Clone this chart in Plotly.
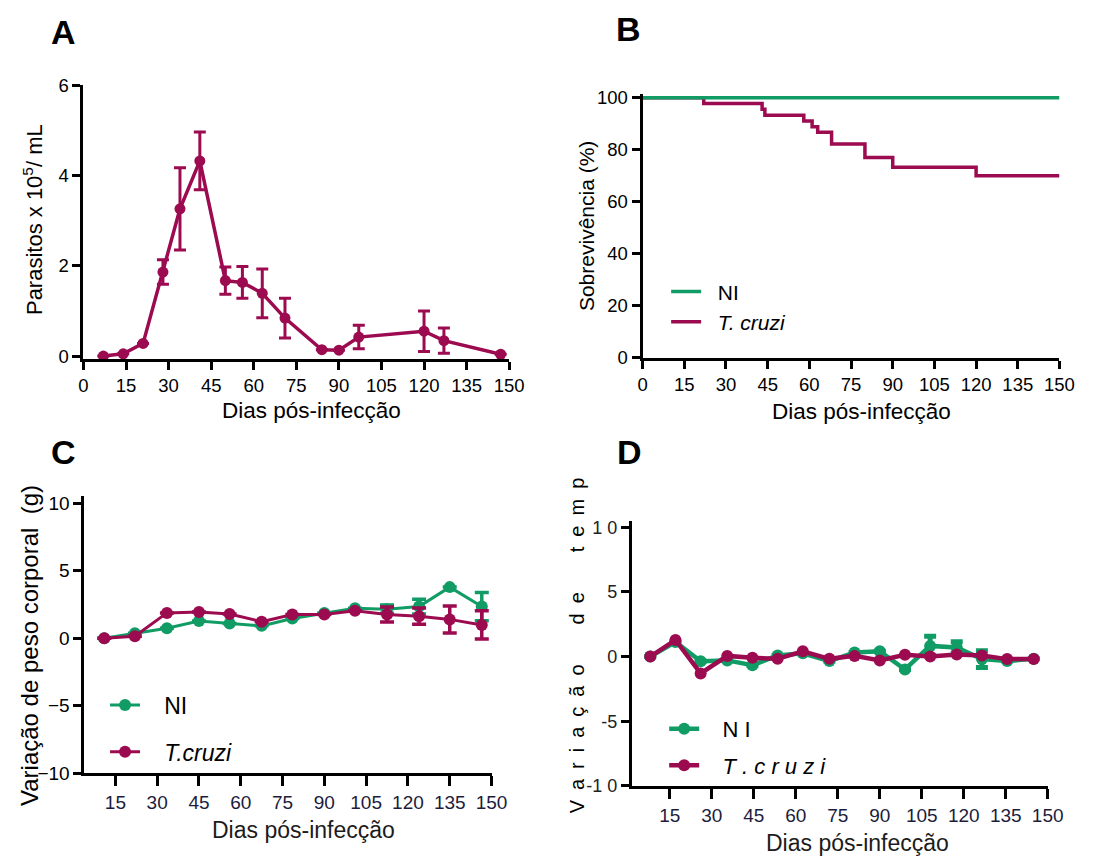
import plotly.graph_objects as go

W, H = 1100, 868
CR = "#9c0a50"
GR = "#109c64"
FONT = "Liberation Sans, Arial, sans-serif"
NARROW = "Liberation Sans Narrow, Arial Narrow, Liberation Sans, sans-serif"

# ---------- Panel A: parasitemia ----------
a_days = [7, 14, 21, 28, 34, 41, 50, 56, 63, 71, 84, 90, 97, 120, 127, 147]
a_par = [0.0, 0.05, 0.28, 1.86, 3.26, 4.32, 1.67, 1.63, 1.39, 0.84, 0.14, 0.13, 0.42, 0.55, 0.34, 0.04]
a_err = [0.0, 0.0, 0.0, 0.27, 0.91, 0.64, 0.30, 0.35, 0.54, 0.44, 0.0, 0.0, 0.26, 0.45, 0.28, 0.0]

# ---------- Panel B: survival ----------
b_ni_days = [0, 150]
b_ni_surv = [100, 100]
b_tc_days = [0, 22, 43, 44, 58, 61, 63, 68, 80, 90, 120, 150]
b_tc_surv = [100, 97.8, 95.6, 93.3, 91.1, 88.9, 86.7, 82.2, 77.0, 73.3, 70.0, 70.0]

# ---------- Panel C: body weight ----------
c_days = [11, 22, 33.5, 45, 56, 67.5, 78.5, 90, 101, 112.5, 124, 135, 146.5]
c_ni = [0.0, 0.36, 0.74, 1.27, 1.08, 0.91, 1.46, 1.87, 2.22, 2.15, 2.34, 3.78, 2.34]
c_ni_err = [0, 0, 0, 0, 0, 0, 0, 0, 0, 0.3, 0.55, 0, 1.05]
c_tc = [0.0, 0.14, 1.87, 1.94, 1.79, 1.22, 1.75, 1.75, 2.03, 1.75, 1.63, 1.39, 0.98]
c_tc_err = [0, 0, 0, 0, 0, 0, 0, 0, 0, 0.55, 0.6, 1.0, 1.05]

# ---------- Panel D: temperature ----------
d_days = [8, 17, 26, 35.5, 44.5, 53.5, 62.5, 72, 81, 90, 99, 108, 117.5, 126.5, 135.5, 145]
d_ni = [0.0, 1.12, -0.37, -0.3, -0.67, 0.08, 0.25, -0.35, 0.32, 0.4, -1.0, 0.82, 0.7, -0.2, -0.35, -0.18]
d_ni_err = [0, 0, 0, 0, 0, 0, 0, 0, 0, 0, 0, 0.75, 0.45, 0.65, 0, 0]
d_tc = [0.0, 1.28, -1.31, 0.05, -0.1, -0.18, 0.4, -0.18, 0.05, -0.3, 0.13, 0.0, 0.15, 0.08, -0.2, -0.2]

x_ticks_full = [0, 15, 30, 45, 60, 75, 90, 105, 120, 135, 150]
x_ticks_c = [15, 30, 45, 60, 75, 90, 105, 120, 135, 150]
d_ytickvals = [-10, -5, 0, 5, 10]
d_yticktext = ["-1 0", "-5", "0", "5", "1 0"]


def px(x):
    return x / W


def py(y):
    return 1 - y / H


NB = "\u00a0"
fig = go.Figure()

# A
fig.add_trace(go.Scatter(
    x=a_days, y=a_par, mode="lines+markers", xaxis="x", yaxis="y",
    line=dict(color=CR, width=3.5), marker=dict(color=CR, size=11),
    error_y=dict(type="data", array=a_err, color=CR, thickness=3, width=6),
    showlegend=False, cliponaxis=False))

# B (T. cruzi drawn first so NI sits on top; legend order kept via legendrank)
fig.add_trace(go.Scatter(
    x=b_tc_days, y=b_tc_surv, mode="lines", xaxis="x2", yaxis="y2",
    line=dict(color=CR, width=3.5, shape="hv"), name=NB * 2 + "<i>T. cruzi</i>",
    legend="legend", legendgroup="btc", legendrank=2, cliponaxis=False))
fig.add_trace(go.Scatter(
    x=b_ni_days, y=b_ni_surv, mode="lines", xaxis="x2", yaxis="y2",
    line=dict(color=GR, width=3.5, shape="hv"), name=NB * 2 + "NI",
    legend="legend", legendgroup="bni", legendrank=1, cliponaxis=False))

# C
fig.add_trace(go.Scatter(
    x=c_days, y=c_ni, mode="lines+markers", xaxis="x3", yaxis="y3",
    line=dict(color=GR, width=3), marker=dict(color=GR, size=12),
    error_y=dict(type="data", array=c_ni_err, color=GR, thickness=3.5, width=7),
    name=NB * 3 + "NI", legend="legend2", legendgroup="cni", cliponaxis=False))
fig.add_trace(go.Scatter(
    x=c_days, y=c_tc, mode="lines+markers", xaxis="x3", yaxis="y3",
    line=dict(color=CR, width=3), marker=dict(color=CR, size=12),
    error_y=dict(type="data", array=c_tc_err, color=CR, thickness=3.5, width=7),
    name=NB * 3 + "<i>T.cruzi</i>", legend="legend2", legendgroup="ctc", cliponaxis=False))

# D
fig.add_trace(go.Scatter(
    x=d_days, y=d_ni, mode="lines+markers", xaxis="x4", yaxis="y4",
    line=dict(color=GR, width=4.5), marker=dict(color=GR, size=12),
    error_y=dict(type="data", array=d_ni_err, color=GR, thickness=5, width=6),
    name=NB * 3 + "N I", legend="legend3", legendgroup="dni", cliponaxis=False))
fig.add_trace(go.Scatter(
    x=d_days, y=d_tc, mode="lines+markers", xaxis="x4", yaxis="y4",
    line=dict(color=CR, width=4.5), marker=dict(color=CR, size=12),
    name=NB * 3 + "<i>T . c r u z i</i>", legend="legend3", legendgroup="dtc", cliponaxis=False))


def ax(ticklen, **kw):
    d = dict(showline=True, linecolor="black", linewidth=3, ticks="outside",
             ticklen=ticklen, tickwidth=3, tickcolor="black", showgrid=False,
             zeroline=False, fixedrange=True)
    d.update(kw)
    return d


TICK = 18.5
fig.update_layout(
    width=W, height=H, margin=dict(l=0, r=0, t=0, b=0),
    paper_bgcolor="white", plot_bgcolor="white",
    font=dict(family=FONT, color="black", size=TICK),
    xaxis=ax(8, domain=[px(80), px(514)], range=[0, 150], tickvals=x_ticks_full,
             anchor="y", tickfont=dict(size=TICK)),
    yaxis=ax(8, domain=[py(356.8), py(76)], range=[-0.06, 6], tickvals=[0, 2, 4, 6],
             anchor="x", tickfont=dict(size=TICK)),
    xaxis2=ax(8, domain=[px(650), px(1075)], range=[0, 150], tickvals=x_ticks_full,
              anchor="y2", tickfont=dict(size=TICK)),
    yaxis2=ax(8, domain=[py(356), py(85)], range=[0, 101.5], tickvals=[0, 20, 40, 60, 80, 100],
              anchor="x2", tickfont=dict(size=TICK)),
    xaxis3=ax(10, domain=[px(81), px(496)], range=[3.9, 150], tickvals=x_ticks_c,
              anchor="y3", tickfont=dict(size=19, color="#1c1c3c")),
    yaxis3=ax(8, domain=[py(782), py(498)], range=[-10, 10.5], tickvals=[-10, -5, 0, 5, 10],
              anchor="x3", tickfont=dict(size=19)),
    xaxis4=ax(10, domain=[px(639), px(1063)], range=[1.4, 150], tickvals=x_ticks_c,
              anchor="y4", tickfont=dict(size=19, color="#1c1c3c")),
    yaxis4=ax(8, domain=[py(795), py(523)], range=[-10, 10.5], tickvals=d_ytickvals,
              ticktext=d_yticktext, anchor="x4",
              tickfont=dict(size=18, family=NARROW, color="#222")),
    legend=dict(x=px(674), y=py(267), xanchor="left", yanchor="top",
                bgcolor="rgba(0,0,0,0)", font=dict(size=21), tracegroupgap=5,
                itemwidth=30, traceorder="normal"),
    legend2=dict(x=px(102), y=py(690), xanchor="left", yanchor="top",
                 bgcolor="rgba(0,0,0,0)", font=dict(size=23), tracegroupgap=14,
                 itemwidth=30),
    legend3=dict(x=px(672), y=py(715), xanchor="left", yanchor="top",
                 bgcolor="rgba(0,0,0,0)", font=dict(size=22, family=NARROW), tracegroupgap=5,
                 itemwidth=30),
)

ann = []


def label(text, x, y, size=18, angle=0, bold=False, family=FONT, color="black"):
    t = f"<b>{text}</b>" if bold else text
    ann.append(dict(text=t, x=px(x), y=py(y), xref="paper", yref="paper",
                    showarrow=False, textangle=angle, xanchor="center", yanchor="middle",
                    font=dict(size=size, family=family, color=color)))


label("A", 60, 22, size=34, bold=True)
label("B", 636, 18.5, size=34, bold=True)
label("C", 60, 452, size=34, bold=True)
label("D", 637, 452, size=34, bold=True)

label("Parasitos x 10<sup>5</sup>/ mL", 28, 214, size=22, angle=-90)
label("Dias pós-infecção", 312, 410, size=22.5)
label("Sobrevivência (%)", 593, 221, size=21, angle=-90)
label("Dias pós-infecção", 873, 411, size=22.5)
label("Variação de peso corporal  (g)", 25, 651, size=24, angle=-90)
label("Dias pós-infecção", 304, 840, size=23, color="#1c1c1c")
sp = "\u2002"
gap = sp * 4
d_ylab = sp.join(list("Variação")) + gap + sp.join(list("de")) + gap + sp.join(list("temp"))
label(d_ylab, 583, 651, size=20, angle=-90)
label("Dias pós-infecção", 869, 854, size=23, color="#1c1c1c")

fig.update_layout(annotations=ann)

fig.write_html(
    "out.html",
    post_script="document.body.style.margin='0';document.body.style.overflow='hidden';",
)
